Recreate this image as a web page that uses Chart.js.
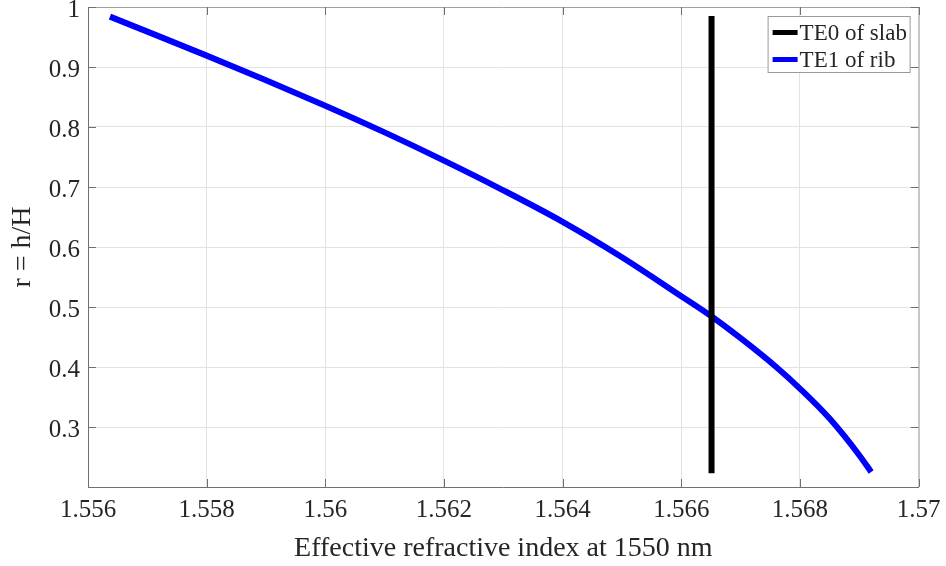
<!DOCTYPE html>
<html>
<head>
<meta charset="utf-8">
<script src="https://cdn.jsdelivr.net/npm/chart.js@4/dist/chart.umd.min.js"></script>
<style>
  html, body { margin: 0; padding: 0; background: #fff; }
  #wrap { width: 946px; height: 566px; }
</style>
</head>
<body>
<div id="wrap"><canvas id="rchart" width="946" height="566"></canvas></div>
<script>
// effective index (x) vs r = h/H (y)
const ribIndex = [1.55637, 1.557, 1.558, 1.559, 1.560, 1.561, 1.562, 1.563, 1.564, 1.565, 1.566, 1.5665, 1.567, 1.5676, 1.568, 1.5685, 1.569, 1.5692];
const ribR     = [0.984, 0.959, 0.919, 0.878, 0.8355, 0.791, 0.744, 0.6945, 0.642, 0.583, 0.518, 0.485, 0.448, 0.400, 0.364, 0.314, 0.253, 0.225];

// the slab mode is just a vertical line
const slabIndex = [1.56651, 1.56651];
const slabR     = [0.223, 0.985];

const seriesLabels = ['TE0 of slab', 'TE1 of rib'];
const xTicks = [1.556, 1.558, 1.56, 1.562, 1.564, 1.566, 1.568, 1.57];
const yTicks = [0.3, 0.4, 0.5, 0.6, 0.7, 0.8, 0.9, 1];

const FONT = "'Liberation Serif', 'Times New Roman', serif";
const TXT = '#262626';

function toPoints(xs, ys) {
    return xs.map((x, i) => ({x: x, y: ys[i]}));
}

// matlab style: ticks pointing inwards on all four sides + box
const boxTicks = {
    id: 'boxTicks',
    afterDraw(chart) {
        const {ctx, chartArea: a, scales} = chart;
        const len = 8;
        ctx.save();
        ctx.lineWidth = 1;
        ctx.strokeStyle = '#a0a0a0';
        ctx.beginPath();
        ctx.moveTo(a.left, a.top + 0.5);
        ctx.lineTo(a.right + 0.5, a.top + 0.5);
        ctx.lineTo(a.right + 0.5, a.bottom);
        ctx.stroke();
        ctx.strokeStyle = '#707070';
        ctx.beginPath();
        xTicks.forEach(v => {
            const px = Math.round(scales.x.getPixelForValue(v)) + 0.5;
            ctx.moveTo(px, a.bottom); ctx.lineTo(px, a.bottom - len);
            ctx.moveTo(px, a.top); ctx.lineTo(px, a.top + len);
        });
        yTicks.forEach(v => {
            const py = Math.round(scales.y.getPixelForValue(v)) + 0.5;
            ctx.moveTo(a.left, py); ctx.lineTo(a.left + len, py);
            ctx.moveTo(a.right, py); ctx.lineTo(a.right - len, py);
        });
        ctx.stroke();
        ctx.restore();
    }
};

// legend in the top right corner, with a border
const boxLegend = {
    id: 'boxLegend',
    afterDraw(chart) {
        const {ctx, chartArea: a} = chart;
        const w = 142, h = 56;
        const x0 = a.right - 9 - w, y0 = a.top + 9;
        ctx.save();
        ctx.fillStyle = '#fff';
        ctx.fillRect(x0, y0, w, h);
        ctx.strokeStyle = '#9a9a9a';
        ctx.lineWidth = 1;
        ctx.strokeRect(x0 + 0.5, y0 + 0.5, w, h);
        ctx.font = '23px ' + FONT;
        ctx.textBaseline = 'middle';
        chart.data.datasets.forEach((ds, i) => {
            const cy = y0 + 16.5 + i * 27;
            ctx.fillStyle = ds.borderColor;
            ctx.fillRect(x0 + 5, cy - 2.5, 25, 5);
            ctx.fillStyle = TXT;
            ctx.fillText(ds.label, x0 + 32, cy + 1);
        });
        ctx.restore();
    }
};

window.onload = function() {
    const ctx = document.getElementById('rchart').getContext('2d');
    new Chart(ctx, {
        type: 'line',
        data: {
            datasets: [{
                label: seriesLabels[0],
                data: toPoints(slabIndex, slabR),
                borderColor: '#000000',
                borderWidth: 6,
                pointRadius: 0
            }, {
                label: seriesLabels[1],
                data: toPoints(ribIndex, ribR),
                borderColor: '#0000ff',
                borderWidth: 6,
                pointRadius: 0,
                cubicInterpolationMode: 'monotone'
            }]
        },
        options: {
            responsive: false,
            animation: false,
            layout: { padding: { top: 7, right: 27.4, left: 0, bottom: 0 } },
            plugins: {
                legend: { display: false },
                tooltip: { enabled: false }
            },
            scales: {
                x: {
                    type: 'linear',
                    min: 1.556,
                    max: 1.57,
                    afterBuildTicks: s => { s.ticks = xTicks.map(v => ({value: v})); },
                    afterFit: s => { s.height = 79; s.paddingLeft = 0; s.paddingRight = 0; },
                    ticks: {
                        color: TXT,
                        font: { family: FONT, size: 25 },
                        padding: 8,
                        maxRotation: 0,
                        callback: v => String(+v.toFixed(3))
                    },
                    grid: { color: '#e3e3e3', drawTicks: false },
                    border: { color: '#707070' },
                    title: {
                        display: true,
                        text: 'Effective refractive index at 1550 nm',
                        color: TXT,
                        font: { family: FONT, size: 28 },
                        padding: { top: 0, bottom: 1 }
                    }
                },
                y: {
                    min: 0.2,
                    max: 1,
                    afterBuildTicks: s => { s.ticks = [0.2].concat(yTicks).map(v => ({value: v})); },
                    afterFit: s => { s.width = 88; s.paddingTop = 0; s.paddingBottom = 0; },
                    ticks: {
                        color: TXT,
                        font: { family: FONT, size: 25 },
                        padding: 8,
                        labelOffset: 3,
                        callback: v => (v < 0.25 ? '' : String(+v.toFixed(1)))
                    },
                    grid: { color: '#e3e3e3', drawTicks: false },
                    border: { color: '#707070' },
                    title: {
                        display: true,
                        text: 'r = h/H',
                        color: TXT,
                        font: { family: FONT, size: 28 },
                        padding: { top: 6, bottom: 0 }
                    }
                }
            }
        },
        plugins: [boxTicks, boxLegend]
    });
};
</script>
</body>
</html>
